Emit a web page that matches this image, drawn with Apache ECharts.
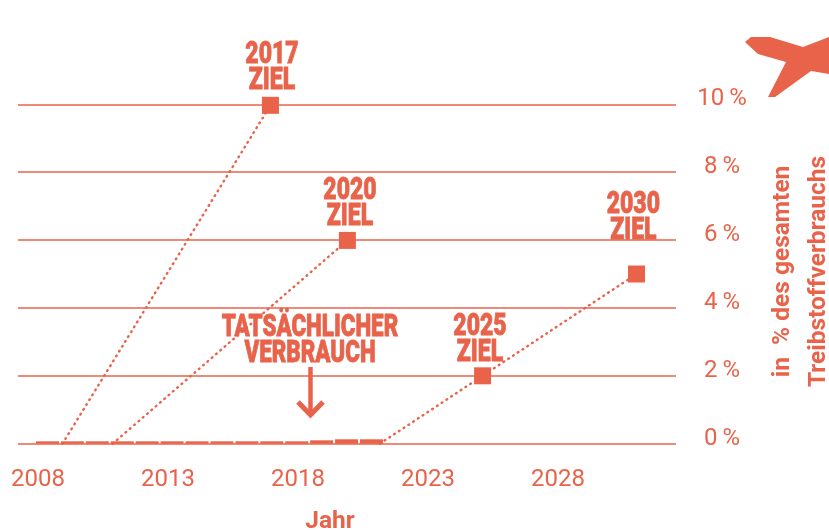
<!DOCTYPE html>
<html><head><meta charset="utf-8">
<style>html,body{margin:0;padding:0;background:#fff}#c{width:829px;height:530px}</style>
<script src="https://cdn.jsdelivr.net/npm/echarts@6/dist/echarts.min.js"></script>
</head><body><div id="c"></div>
<script>
const years=[2008,2009,2010,2011,2012,2013,2014,2015,2016,2017,2018,2019,2020,2021];
const usage=[0.07,0.07,0.07,0.07,0.07,0.07,0.07,0.07,0.07,0.07,0.07,0.1,0.13,0.13];
const xTicks=[2008,2013,2018,2023,2028];
const path2017=[[2008.94,0],[2016.94,9.97]];
const path2020=[[2010.87,0],[2019.9,5.99]];
const path2030=[[2021.15,0],[2025.1,2],[2031.02,5]];
const targetLabels=['2017\nZIEL','2020\nZIEL','2025\nZIEL','2030\nZIEL'];
const labelAnchors=[[2017,10],[2020,6],[2025,2],[2030.9,5.6]];
const C='#E8634A';
const headFont='900 31.5px Roboto';
const squeeze=0.73;
function target(path){
  return {type:'line',xAxisIndex:0,yAxisIndex:0,data:path,
    symbol:(v,p)=>p.dataIndex===0?'none':'rect',symbolSize:17,showAllSymbol:true,
    lineStyle:{color:C,width:2.4,type:[0.8,4.9],cap:'round'},itemStyle:{color:C},silent:true,z:5};
}
const chart=echarts.init(document.getElementById('c'),null,{renderer:'canvas'});
chart.setOption({
  animation:false,
  grid:{left:18,right:153,top:104.3,bottom:86.3,outerBoundsMode:'none'},
  xAxis:[{type:'value',min:2007.23,max:2032.54,position:'bottom',
      name:'Jahr',nameLocation:'middle',nameGap:66,
      nameTextStyle:{color:C,fontFamily:'Roboto',fontWeight:'bold',fontSize:24.5,padding:[0,34,0,0]},
      axisLine:{show:false},axisTick:{show:false},splitLine:{show:false},
      axisLabel:{customValues:xTicks,color:C,fontFamily:'Roboto',fontSize:24,margin:24,formatter:v=>String(v)}},
    {type:'value',min:2006.816,max:2033.22,show:false}],
  yAxis:{type:'value',min:0,max:10,interval:2,position:'right',
    name:'in  % des gesamten\nTreibstoffverbrauchs',nameLocation:'middle',nameRotate:90,nameGap:89,
    nameTextStyle:{color:C,fontFamily:'Roboto',fontWeight:'bold',fontSize:24.5,lineHeight:36,padding:[0,0,0,5]},
    axisLine:{show:false},axisTick:{show:false},
    splitLine:{show:true,lineStyle:{color:C,width:1.5}},
    axisLabel:{color:C,fontFamily:'Roboto',fontSize:24,margin:46,align:'center',verticalAlign:'bottom',lineHeight:10,
      formatter:v=>v+'\u2009%'}},
  series:[
    {type:'bar',xAxisIndex:1,yAxisIndex:0,data:years.map((y,i)=>[y,usage[i]]),barWidth:23,itemStyle:{color:C},z:3},
    target(path2017),
    target(path2020),
    target(path2030),
    {type:'custom',xAxisIndex:0,yAxisIndex:0,silent:true,z:6,clip:false,
      data:labelAnchors,
      renderItem:(params,api)=>{
        const p=api.coord([api.value(0),api.value(1)]);
        return {type:'text',x:p[0],y:p[1]-10,scaleX:squeeze,
          style:{text:targetLabels[params.dataIndex],font:headFont,lineHeight:26,align:'center',verticalAlign:'bottom',fill:C,stroke:C,lineWidth:0.8}};
      }}
  ],
  graphic:[
    {type:'text',x:310,y:315,scaleX:0.71,style:{text:'TATSÄCHLICHER\nVERBRAUCH',align:'center',fill:C,stroke:C,lineWidth:0.8,font:headFont,lineHeight:26}},
    {type:'polyline',shape:{points:[[310.5,367],[310.5,415]]},style:{stroke:C,fill:null,lineWidth:4.5}},
    {type:'polyline',shape:{points:[[298,402],[310.5,415],[323,402]]},style:{stroke:C,fill:null,lineWidth:5}},
    {type:'polygon',shape:{points:[[745,42],[751,37],[770,37],[803,47],[829,37],[829,74],[811,71],[775,97],[768,97],[786,62],[758,54]]},style:{fill:C}}
  ]
});
</script></body></html>
